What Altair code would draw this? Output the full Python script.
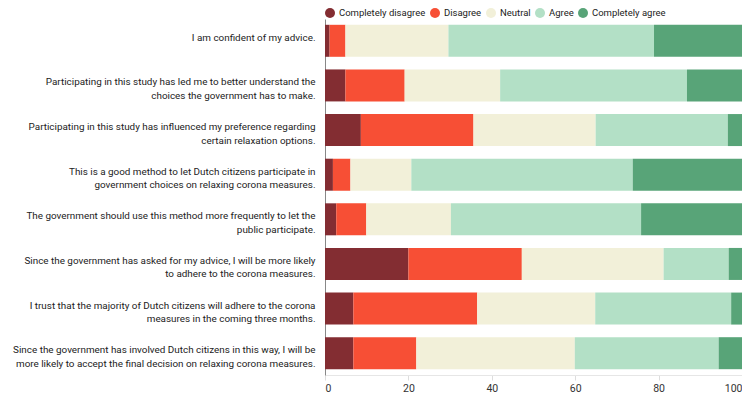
import altair as alt
import pandas as pd

questions = [
    "I am confident of my advice.",
    "Participating in this study has led me to better understand the\nchoices the government has to make.",
    "Participating in this study has influenced my preference regarding\ncertain relaxation options.",
    "This is a good method to let Dutch citizens participate in\ngovernment choices on relaxing corona measures.",
    "The government should use this method more frequently to let the\npublic participate.",
    "Since the government has asked for my advice, I will be more likely\nto adhere to the corona measures.",
    "I trust that the majority of Dutch citizens will adhere to the corona\nmeasures in the coming three months.",
    "Since the government has involved Dutch citizens in this way, I will be\nmore likely to accept the final decision on relaxing corona measures.",
]
categories = ["Completely disagree", "Disagree", "Neutral", "Agree", "Completely agree"]
colors = ["#832D32", "#F74F35", "#F2F0D9", "#B3E0C6", "#58A478"]

completely_disagree = [1.1, 4.9, 8.6, 1.9, 2.7, 20.0, 6.8, 6.8]
disagree = [3.8, 14.2, 27.0, 4.2, 7.2, 27.2, 29.7, 15.1]
neutral = [24.7, 22.9, 29.3, 14.6, 20.3, 34.0, 28.3, 38.0]
agree = [49.3, 44.8, 31.7, 53.1, 45.6, 15.6, 32.6, 34.5]
completely_agree = [21.1, 13.2, 3.4, 26.2, 24.2, 3.2, 2.6, 5.6]

series = [completely_disagree, disagree, neutral, agree, completely_agree]
rows = []
for ci, (cat, vals) in enumerate(zip(categories, series)):
    for q, v in zip(questions, vals):
        rows.append({"question": q, "category": cat, "order": ci, "value": v})
df = pd.DataFrame(rows)

FONT = "Roboto"

chart = alt.Chart(df).mark_bar().encode(
    y=alt.Y("question:N", sort=questions, title=None,
            scale=alt.Scale(paddingInner=0.283, paddingOuter=0.13),
            axis=alt.Axis(labelExpr="split(datum.label, '\\n')", labelLimit=400,
                          labelAlign="right", labelBaseline="alphabetic",
                          labelLineHeight=13.5, labelFontSize=9.9, labelFont=FONT,
                          labelColor="#222", labelPadding=10, ticks=False,
                          domainColor="#888", domainWidth=1)),
    x=alt.X("value:Q", stack="zero", title=None,
            scale=alt.Scale(domain=[0, 100], nice=False),
            axis=alt.Axis(values=[0, 20, 40, 60, 80, 100], grid=False,
                          domainColor="#e6e6e6", tickColor="#dddddd", tickSize=5,
                          labelFontSize=10.5, labelFont=FONT, labelColor="#333",
                          labelPadding=3)),
    color=alt.Color("category:N", sort=categories,
                    scale=alt.Scale(domain=categories, range=colors),
                    legend=alt.Legend(title=None, orient="none", direction="horizontal",
                                      legendX=0, legendY=-11, symbolType="circle",
                                      symbolSize=100, symbolStrokeWidth=0,
                                      labelFont=FONT, labelFontSize=9.5,
                                      labelColor="#222", labelOffset=4,
                                      columnPadding=4, padding=0)),
    order=alt.Order("order:Q"),
).properties(
    width=417, height=356,
    autosize=alt.AutoSizeParams(type="none"),
    padding={"left": 317, "top": 11, "right": 0, "bottom": 21},
).configure_view(stroke=None)

chart.save("out.html", embed_options={"renderer": "svg", "actions": False})
